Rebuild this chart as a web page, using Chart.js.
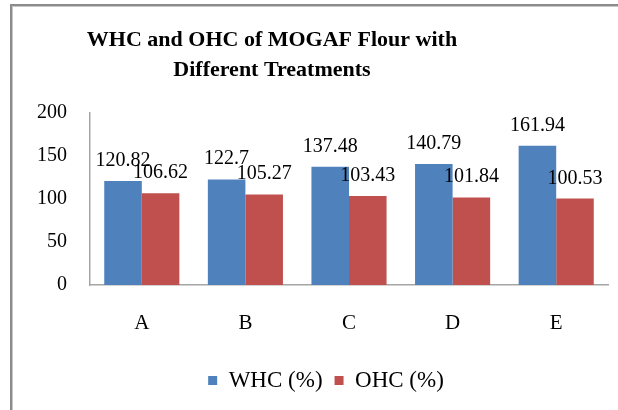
<!DOCTYPE html>
<html>
<head>
<meta charset="utf-8">
<script src="https://cdn.jsdelivr.net/npm/chart.js@4.4.1/dist/chart.umd.min.js"></script>
<style>
  html, body { margin: 0; padding: 0; background: #fff; }
  #wrap { position: relative; width: 618px; height: 410px; overflow: hidden; }
  #frame { position: absolute; left: 10px; top: 4px; width: 700px; height: 500px;
           border-left: 2px solid #8c8c8c; border-top: 2px solid #8c8c8c;
           box-shadow: inset 1px 1px 0 #c8c8c8; }
  canvas { position: absolute; left: 0; top: 0; }
</style>
</head>
<body>
<div id="wrap">
  <div id="frame"></div>
  <canvas id="chart" width="618" height="410"></canvas>
</div>
<script>
// --- data ---
const categories = ['A', 'B', 'C', 'D', 'E'];
const whcValues = [120.82, 122.7, 137.48, 140.79, 161.94];
const ohcValues = [106.62, 105.27, 103.43, 101.84, 100.53];
const seriesNames = ['WHC (%)', 'OHC (%)'];
const titleLines = ['WHC and OHC of MOGAF Flour with', 'Different Treatments'];

const SERIF = '"Liberation Serif", "Times New Roman", serif';

// title sits a bit left of the legend in the original, so draw it by hand
const chartTitle = {
    id: 'chartTitle',
    afterDraw(chart) {
        const ctx = chart.ctx;
        ctx.save();
        ctx.font = 'bold 22px ' + SERIF;
        ctx.fillStyle = '#000';
        ctx.textAlign = 'center';
        ctx.textBaseline = 'middle';
        titleLines.forEach((line, i) => ctx.fillText(line, 272, 40 + i * 30));
        ctx.restore();
    }
};

// legend is centred under the plot area, not the whole canvas
const shiftLegend = {
    id: 'shiftLegend',
    afterLayout(chart) {
        if (chart.legend) chart.legend.left += 44;
    }
};

// draws the numbers above each bar, like Excel "outside end"
const barLabels = {
    id: 'barLabels',
    afterDatasetsDraw(chart) {
        const ctx = chart.ctx;
        ctx.save();
        ctx.font = '20px ' + SERIF;
        ctx.fillStyle = '#000';
        ctx.textAlign = 'center';
        ctx.textBaseline = 'alphabetic';
        chart.data.datasets.forEach((ds, i) => {
            chart.getDatasetMeta(i).data.forEach((bar, j) => {
                ctx.fillText(String(ds.data[j]), bar.x, bar.y - 15);
            });
        });
        ctx.restore();
    }
};

new Chart(document.getElementById('chart'), {
    type: 'bar',
    data: {
        labels: categories,
        datasets: [
            { label: seriesNames[0], data: whcValues, backgroundColor: '#4F81BD' },
            { label: seriesNames[1], data: ohcValues, backgroundColor: '#C0504D' }
        ]
    },
    options: {
        responsive: false,
        animation: false,
        layout: { padding: { left: 0, right: 10, top: 113, bottom: 8 } },
        datasets: { bar: { categoryPercentage: 0.725, barPercentage: 1.0 } },
        plugins: {
            title: { display: false },
            legend: {
                position: 'bottom',
                labels: {
                    color: '#000',
                    font: { family: SERIF, size: 23 },
                    usePointStyle: true,
                    pointStyle: 'rect',
                    boxWidth: 9,
                    boxHeight: 9,
                    padding: 12
                }
            },
            tooltip: { enabled: false }
        },
        scales: {
            x: {
                grid: { display: false, drawTicks: false },
                border: { color: '#a6a6a6', width: 1.5 },
                ticks: { color: '#000', font: { family: SERIF, size: 21 }, padding: 26 },
                afterFit(scale) { scale.height = 72; }
            },
            y: {
                min: 0, max: 200,
                grid: { display: false, drawTicks: false },
                border: { color: '#a6a6a6', width: 1.5 },
                ticks: { stepSize: 50, color: '#000', font: { family: SERIF, size: 20 }, padding: 23 },
                afterFit(scale) { scale.width = 90; }
            }
        }
    },
    plugins: [barLabels, chartTitle, shiftLegend]
});
</script>
</body>
</html>
